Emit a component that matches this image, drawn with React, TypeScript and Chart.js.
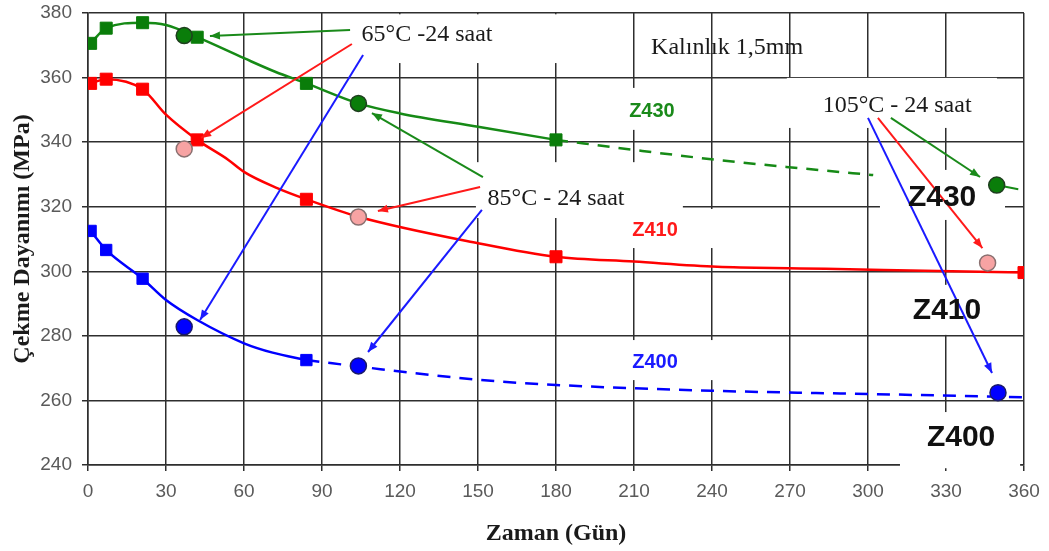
import { useEffect, useRef } from "react";
import { Chart, registerables } from "chart.js";

Chart.register(...registerables);

// Axis ticks
const dayTicks = [0, 30, 60, 90, 120, 150, 180, 210, 240, 270, 300, 330, 360];
const mpaTicks = [240, 260, 280, 300, 320, 340, 360, 380];

// Z430 (green) measured points
const z430Days = [1, 7, 21, 42, 84, 180];
const z430Mpa = [370.6, 375.3, 377, 372.5, 358.2, 340.7];
// Z430 fitted curve
const z430CurveDays = [1, 7, 21, 30, 42, 60, 72, 84, 104, 120, 150, 180];
const z430CurveMpa = [370.6, 375.3, 377, 376.3, 372.5, 366, 361.8, 358.2, 352, 348.9, 344.8, 340.7];
const z430TrendDays = [180, 210, 242, 274, 302];
const z430TrendMpa = [340.7, 337.6, 334.5, 331.9, 329.8];
const z430TailDays = [349.5, 357.8];
const z430TailMpa = [326.7, 325.4];
const z430HeatDays = [37, 104, 349.5];
const z430HeatMpa = [373, 352, 326.7];

// Z410 (red)
const z410Days = [1, 7, 21, 42, 84, 180, 360];
const z410Mpa = [358.2, 359.5, 356.4, 340.7, 322.3, 304.5, 299.6];
const z410CurveDays = [1, 7, 21, 30, 42, 54, 60, 73, 84, 104, 150, 180, 210, 242, 274, 306, 360];
const z410CurveMpa = [358.2, 359.5, 356.4, 348.5, 340.7, 334.5, 330.8, 325.7, 322.3, 316.9, 308.7, 304.5, 303, 301.4, 300.9, 300.4, 299.6];
const z410HeatDays = [37, 104, 346];
const z410HeatMpa = [337.9, 316.8, 302.6];

// Z400 (blue)
const z400Days = [1, 7, 21, 84];
const z400Mpa = [312.5, 306.6, 297.7, 272.5];
const z400CurveDays = [1, 7, 21, 30, 42, 60, 71, 84];
const z400CurveMpa = [312.5, 306.6, 297.7, 291.1, 284.9, 277.7, 274.8, 272.5];
const z400TrendDays = [84, 94, 104, 150, 180, 240, 300, 360];
const z400TrendMpa = [272.5, 271.5, 270.5, 266.4, 264.8, 263, 262, 261];
const z400HeatDays = [37, 104, 350];
const z400HeatMpa = [282.8, 270.7, 262.4];

// Annotation texts: [text, day, mpa]
const serifLabels: [string, number, number][] = [
  ["65°C -24 saat", 130.4, 373.2],
  ["Kalınlık 1,5mm", 245.8, 369.2],
  ["85°C - 24 saat", 180, 322.4],
  ["105°C - 24 saat", 311.2, 351.2],
];
const smallGradeLabels: [string, number, number, string][] = [
  ["Z430", 216.9, 349.6, "#1a8a1a"],
  ["Z410", 218.1, 312.5, "#ff1a1a"],
  ["Z400", 218.1, 271.6, "#1a1aff"],
];
const bigGradeLabels: [string, number, number][] = [
  ["Z430", 328.5, 322.7],
  ["Z410", 330.4, 287.7],
  ["Z400", 335.8, 248.4],
];
// Arrows: [fromDay, fromMpa, toDay, toMpa, color]
const arrows: [number, number, number, number, string][] = [
  [100.8, 374.7, 46.9, 372.9, "#1a8a1a"],
  [101.5, 370.4, 43.5, 341.3, "#ff1a1a"],
  [105.8, 367.0, 43.1, 284.9, "#1a1aff"],
  [151.9, 329.2, 109.2, 349.0, "#1a8a1a"],
  [150.8, 326.1, 111.5, 318.7, "#ff1a1a"],
  [151.5, 319.0, 107.7, 275.0, "#1a1aff"],
  [300.0, 347.5, 347.7, 268.5, "#1a1aff"],
  [303.8, 347.5, 344.0, 307.2, "#ff1a1a"],
  [308.8, 347.5, 343.1, 329.2, "#1a8a1a"],
];
// White label backgrounds hiding grid lines: [day0, day1, mpaTop, mpaBottom]
const maskBoxes: [number, number, number, number][] = [
  [96.2, 206.5, 379.6, 364.5],
  [268.8, 349.6, 359.9, 344.4],
  [202.7, 237.3, 356.8, 343.8],
  [149.2, 228.8, 333.8, 316.5],
  [202.7, 243.1, 319.3, 307.2],
  [202.7, 243.1, 278.7, 266.3],
  [304.6, 352.7, 331.4, 315.9],
  [306.5, 353.8, 295.8, 280.3],
  [312.3, 358.5, 256.4, 239.0],
];

const GREEN = "#168a16";
const RED = "#ff0000";
const BLUE = "#0000ff";
const GRID = "#2e2e2e";

const pts = (xs: number[], ys: number[]) => xs.map((x, i) => ({ x, y: ys[i] }));

const overlay = {
  id: "overlay",
  beforeDatasetsDraw(chart: any) {
    const { ctx } = chart;
    const sx = chart.scales.x;
    const sy = chart.scales.y;
    ctx.save();
    ctx.fillStyle = "#ffffff";
    for (const [d0, d1, m0, m1] of maskBoxes) {
      const x0 = sx.getPixelForValue(d0);
      const x1 = sx.getPixelForValue(d1);
      const y0 = sy.getPixelForValue(m0);
      const y1 = sy.getPixelForValue(m1);
      ctx.fillRect(x0, y0, x1 - x0, y1 - y0);
    }
    ctx.restore();
  },
  afterDatasetsDraw(chart: any) {
    const { ctx } = chart;
    const sx = chart.scales.x;
    const sy = chart.scales.y;
    ctx.save();
    for (const [fd, fm, td, tm, color] of arrows) {
      const x0 = sx.getPixelForValue(fd);
      const y0 = sy.getPixelForValue(fm);
      const x1 = sx.getPixelForValue(td);
      const y1 = sy.getPixelForValue(tm);
      ctx.strokeStyle = color;
      ctx.fillStyle = color;
      ctx.lineWidth = 2;
      ctx.beginPath();
      ctx.moveTo(x0, y0);
      ctx.lineTo(x1, y1);
      ctx.stroke();
      const ang = Math.atan2(y1 - y0, x1 - x0);
      const len = 10;
      const hw = 4;
      ctx.beginPath();
      ctx.moveTo(x1, y1);
      ctx.lineTo(x1 - len * Math.cos(ang) + hw * Math.sin(ang), y1 - len * Math.sin(ang) - hw * Math.cos(ang));
      ctx.lineTo(x1 - len * Math.cos(ang) - hw * Math.sin(ang), y1 - len * Math.sin(ang) + hw * Math.cos(ang));
      ctx.closePath();
      ctx.fill();
    }
    ctx.textAlign = "center";
    ctx.textBaseline = "middle";
    ctx.font = '24px "Liberation Serif", "Times New Roman", serif';
    ctx.fillStyle = "#1a1a1a";
    for (const [t, d, m] of serifLabels) {
      ctx.fillText(t, sx.getPixelForValue(d), sy.getPixelForValue(m));
    }
    ctx.font = 'bold 20px "Liberation Sans", Arial, sans-serif';
    for (const [t, d, m, c] of smallGradeLabels) {
      ctx.fillStyle = c;
      ctx.fillText(t, sx.getPixelForValue(d), sy.getPixelForValue(m));
    }
    ctx.font = 'bold 30px "Liberation Sans", Arial, sans-serif';
    ctx.fillStyle = "#111111";
    for (const [t, d, m] of bigGradeLabels) {
      ctx.fillText(t, sx.getPixelForValue(d), sy.getPixelForValue(m));
    }
    ctx.restore();
  },
};

export default function App() {
  const ref = useRef<HTMLCanvasElement | null>(null);
  useEffect(() => {
    if (!ref.current) return;
    const lineBase = {
      showLine: true,
      pointRadius: 0,
      borderWidth: 2.5,
      cubicInterpolationMode: "monotone" as const,
      tension: 0.4,
      order: 3,
    };
    const markerBase = {
      showLine: false,
      pointStyle: "rect" as const,
      pointRadius: 8.5,
      borderWidth: 1,
      order: 2,
    };
    const circleBase = {
      showLine: false,
      pointStyle: "circle" as const,
      pointRadius: 8,
      borderWidth: 1.5,
      order: 1,
    };
    const chart = new Chart(ref.current, {
      type: "line",
      data: {
        datasets: [
          { ...lineBase, data: pts(z430CurveDays, z430CurveMpa), borderColor: GREEN },
          { ...lineBase, data: pts(z430TrendDays, z430TrendMpa), borderColor: GREEN, borderDash: [12, 9] },
          { ...lineBase, data: pts(z430TailDays, z430TailMpa), borderColor: GREEN, borderWidth: 2 },
          { ...lineBase, data: pts(z410CurveDays, z410CurveMpa), borderColor: RED },
          { ...lineBase, data: pts(z400CurveDays, z400CurveMpa), borderColor: BLUE },
          { ...lineBase, data: pts(z400TrendDays, z400TrendMpa), borderColor: BLUE, borderDash: [13, 9] },
          { ...markerBase, data: pts(z430Days, z430Mpa), backgroundColor: "#0a7d0a", borderColor: "#0a7d0a" },
          { ...markerBase, data: pts(z410Days, z410Mpa), backgroundColor: RED, borderColor: RED },
          { ...markerBase, data: pts(z400Days, z400Mpa), backgroundColor: BLUE, borderColor: BLUE, pointRadius: 8 },
          { ...circleBase, data: pts(z430HeatDays, z430HeatMpa), backgroundColor: "#0a7d0a", borderColor: "#1f3f1f" },
          { ...circleBase, data: pts(z410HeatDays, z410HeatMpa), backgroundColor: "#f7a3a3", borderColor: "#8a7070" },
          { ...circleBase, data: pts(z400HeatDays, z400HeatMpa), backgroundColor: BLUE, borderColor: "#1a1a6a" },
        ],
      },
      options: {
        responsive: false,
        animation: false,
        layout: { autoPadding: false, padding: { left: 0, right: 25, top: 13, bottom: 0 } },
        plugins: { legend: { display: false }, tooltip: { enabled: false } },
        elements: { line: { fill: false } },
        scales: {
          x: {
            type: "linear",
            min: 0,
            max: 360,
            afterBuildTicks: (s: any) => {
              s.ticks = dayTicks.map((v) => ({ value: v }));
            },
            afterFit: (s: any) => {
              s.height = 86;
              s.paddingLeft = 0;
              s.paddingRight = 0;
            },
            grid: { color: GRID, lineWidth: 1.5, tickLength: 6, tickColor: GRID },
            border: { color: GRID, width: 1.5 },
            ticks: {
              color: "#5a5a5a",
              padding: 9,
              maxRotation: 0,
              font: { family: '"Liberation Sans", Arial, sans-serif', size: 19 },
            },
            title: {
              display: true,
              text: "Zaman (Gün)",
              color: "#1a1a1a",
              padding: { top: 0, bottom: 3 },
              font: { family: '"Liberation Serif", "Times New Roman", serif', size: 24, weight: "bold" },
            },
          },
          y: {
            type: "linear",
            min: 240,
            max: 380,
            afterBuildTicks: (s: any) => {
              s.ticks = mpaTicks.map((v) => ({ value: v }));
            },
            afterFit: (s: any) => {
              s.width = 88;
              s.paddingTop = 0;
              s.paddingBottom = 0;
            },
            grid: { color: GRID, lineWidth: 1.5, tickLength: 6, tickColor: GRID },
            border: { color: GRID, width: 1.5 },
            ticks: {
              color: "#5a5a5a",
              padding: 10,
              font: { family: '"Liberation Sans", Arial, sans-serif', size: 19 },
            },
            title: {
              display: true,
              text: "Çekme Dayanımı (MPa)",
              color: "#1a1a1a",
              padding: { top: 8, bottom: 0 },
              font: { family: '"Liberation Serif", "Times New Roman", serif', size: 24, weight: "bold" },
            },
          },
        },
      },
      plugins: [overlay],
    });
    return () => chart.destroy();
  }, []);
  return (
    <div style={{ position: "fixed", left: 0, top: 0, width: 1049, height: 551, background: "#fff" }}>
      <canvas ref={ref} width={1049} height={551} style={{ display: "block" }} />
    </div>
  );
}
